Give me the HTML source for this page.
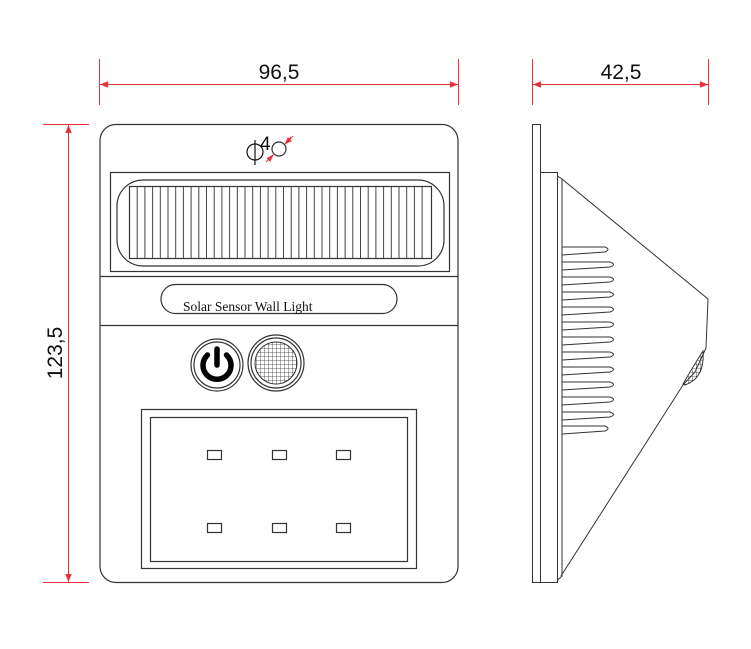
<!DOCTYPE html>
<html><head><meta charset="utf-8"><style>body{margin:0;background:#fff}svg{display:block}</style></head><body>
<svg width="751" height="649" viewBox="0 0 751 649" xmlns="http://www.w3.org/2000/svg" font-family="Liberation Sans, sans-serif">
<defs>
<marker id="a" viewBox="0 0 10 10" refX="10" refY="5" markerWidth="8" markerHeight="8" orient="auto-start-reverse"><path d="M0,1 L10,5 L0,9 Z" fill="#e8303c"/></marker>
<pattern id="g" width="4" height="4" patternUnits="userSpaceOnUse"><path d="M0,0 H4 M0,0 V4" stroke="#333" stroke-width="0.8" fill="none"/></pattern>
</defs>
<g stroke="#e8303c" stroke-width="1" fill="none">
<line x1="99.5" y1="59" x2="99.5" y2="105"/><line x1="458.5" y1="59" x2="458.5" y2="105"/>
<line x1="100" y1="84.5" x2="458" y2="84.5" marker-start="url(#a)" marker-end="url(#a)"/>
<line x1="532.5" y1="59" x2="532.5" y2="105"/><line x1="708.5" y1="59" x2="708.5" y2="105"/>
<line x1="533" y1="84.5" x2="708" y2="84.5" marker-start="url(#a)" marker-end="url(#a)"/>
<line x1="43" y1="124.5" x2="89" y2="124.5"/><line x1="43" y1="582.5" x2="89" y2="582.5"/>
<line x1="68.5" y1="125" x2="68.5" y2="582" marker-start="url(#a)" marker-end="url(#a)"/>
</g>
<g font-size="21" fill="#111">
<text x="279" y="79" text-anchor="middle">96,5</text>
<text x="621" y="79" text-anchor="middle">42,5</text>
<text transform="translate(62,353) rotate(-90)" text-anchor="middle">123,5</text>
</g>
<g stroke="#333" stroke-width="1.2" fill="none">
<rect x="100" y="124.5" width="358" height="458" rx="16"/>
<rect x="110.5" y="172.5" width="339" height="99"/>
<rect x="117" y="180" width="327" height="86" rx="26"/>
<rect x="129.5" y="186.5" width="302" height="72"/>
<line x1="100" y1="276.5" x2="458" y2="276.5"/>
<line x1="100" y1="325.5" x2="458" y2="325.5"/>
<rect x="161" y="284.5" width="236" height="29" rx="14.5"/>
<circle cx="217" cy="365" r="26"/><circle cx="217" cy="365" r="23"/>
<circle cx="276" cy="363" r="28"/><circle cx="276" cy="363" r="25"/>
<rect x="141.5" y="409.5" width="275" height="159"/>
<rect x="150.5" y="417.5" width="257" height="144"/>
</g>
<g stroke="#444" stroke-width="1">
<line x1="137.2" y1="187" x2="137.2" y2="258"/><line x1="144.9" y1="187" x2="144.9" y2="258"/><line x1="152.6" y1="187" x2="152.6" y2="258"/><line x1="160.3" y1="187" x2="160.3" y2="258"/><line x1="168" y1="187" x2="168" y2="258"/><line x1="175.7" y1="187" x2="175.7" y2="258"/><line x1="183.4" y1="187" x2="183.4" y2="258"/><line x1="191.1" y1="187" x2="191.1" y2="258"/><line x1="198.8" y1="187" x2="198.8" y2="258"/><line x1="206.5" y1="187" x2="206.5" y2="258"/><line x1="214.2" y1="187" x2="214.2" y2="258"/><line x1="221.9" y1="187" x2="221.9" y2="258"/><line x1="229.6" y1="187" x2="229.6" y2="258"/><line x1="237.3" y1="187" x2="237.3" y2="258"/><line x1="245" y1="187" x2="245" y2="258"/><line x1="252.7" y1="187" x2="252.7" y2="258"/><line x1="260.4" y1="187" x2="260.4" y2="258"/><line x1="268.1" y1="187" x2="268.1" y2="258"/><line x1="275.8" y1="187" x2="275.8" y2="258"/><line x1="283.5" y1="187" x2="283.5" y2="258"/><line x1="291.2" y1="187" x2="291.2" y2="258"/><line x1="298.9" y1="187" x2="298.9" y2="258"/><line x1="306.6" y1="187" x2="306.6" y2="258"/><line x1="314.3" y1="187" x2="314.3" y2="258"/><line x1="322" y1="187" x2="322" y2="258"/><line x1="329.7" y1="187" x2="329.7" y2="258"/><line x1="337.4" y1="187" x2="337.4" y2="258"/><line x1="345.1" y1="187" x2="345.1" y2="258"/><line x1="352.8" y1="187" x2="352.8" y2="258"/><line x1="360.5" y1="187" x2="360.5" y2="258"/><line x1="368.2" y1="187" x2="368.2" y2="258"/><line x1="375.9" y1="187" x2="375.9" y2="258"/><line x1="383.6" y1="187" x2="383.6" y2="258"/><line x1="391.3" y1="187" x2="391.3" y2="258"/><line x1="399" y1="187" x2="399" y2="258"/><line x1="406.7" y1="187" x2="406.7" y2="258"/><line x1="414.4" y1="187" x2="414.4" y2="258"/><line x1="422.1" y1="187" x2="422.1" y2="258"/>
</g>
<text x="183" y="311" font-family="Liberation Serif, serif" font-size="13.5" fill="#111">Solar Sensor Wall Light</text>
<circle cx="276" cy="363" r="21" fill="url(#g)" stroke="#333"/>
<path d="M207.5,355 A14,14 0 1 0 226.5,355" stroke="#000" stroke-width="5.5" fill="none" stroke-linecap="round"/>
<line x1="217" y1="349" x2="217" y2="365" stroke="#000" stroke-width="5.5" stroke-linecap="round"/>
<g stroke="#333" stroke-width="1.2" fill="none">
<rect x="207.5" y="450.5" width="14" height="9"/><rect x="272.5" y="450.5" width="14" height="9"/><rect x="336.5" y="450.5" width="14" height="9"/>
<rect x="207.5" y="523.5" width="14" height="9"/><rect x="272.5" y="523.5" width="14" height="9"/><rect x="336.5" y="523.5" width="14" height="9"/>
</g>
<ellipse cx="255" cy="152" rx="8" ry="8" stroke="#111" fill="none" stroke-width="1.2"/>
<line x1="255" y1="140" x2="255" y2="165" stroke="#111" stroke-width="1.2"/>
<text x="260" y="150" font-size="19" fill="#111">4</text>
<circle cx="279" cy="149" r="7" stroke="#333" fill="none" stroke-width="1.2"/>
<g stroke="#e8303c" fill="#e8303c" stroke-width="1">
<line x1="293" y1="136" x2="287" y2="142"/><path d="M286,143 L291,137 L288.5,141.5 Z M285.5,143.5 L288,138 L291,141 Z"/>
<line x1="266" y1="162" x2="272" y2="156"/><path d="M273,155 L270,161 L267.5,158.5 Z"/>
</g>
<g stroke="#333" stroke-width="1" fill="none">
<rect x="532.5" y="124.5" width="8" height="458"/>
<rect x="540.5" y="172.5" width="17" height="410"/>
<path d="M557.5,176 L562,179 L562,576 L557.5,580"/>
<path d="M562,179 L708,299 L706,348 L695,372 L683,385 L561,576"/>
<path d="M703,351 Q705,378 685,385 L683,384 Q694,365 703,351 Z" fill="url(#g)"/>
<path d="M562,247 L605,247 Q611,249.5 605,252 L562,255"/>
<path d="M562,262 L610,262 Q617,264.5 610,267 L562,270"/>
<path d="M562,277 L610,277 Q617,279.5 610,282 L562,285"/>
<path d="M562,292 L610,292 Q617,294.5 610,297 L562,300"/>
<path d="M562,307 L610,307 Q617,309.5 610,312 L562,315"/>
<path d="M562,322 L610,322 Q617,324.5 610,327 L562,330"/>
<path d="M562,337 L610,337 Q617,339.5 610,342 L562,345"/>
<path d="M562,352 L610,352 Q617,354.5 610,357 L562,360"/>
<path d="M562,367 L610,367 Q617,369.5 610,372 L562,375"/>
<path d="M562,382 L610,382 Q617,384.5 610,387 L562,390"/>
<path d="M562,397 L610,397 Q617,399.5 610,402 L562,405"/>
<path d="M562,412 L610,412 Q617,414.5 610,417 L562,420"/>
<path d="M562,426 L605,426 Q611,428.5 605,431 L562,434"/>
</g>
</svg>
</body></html>
